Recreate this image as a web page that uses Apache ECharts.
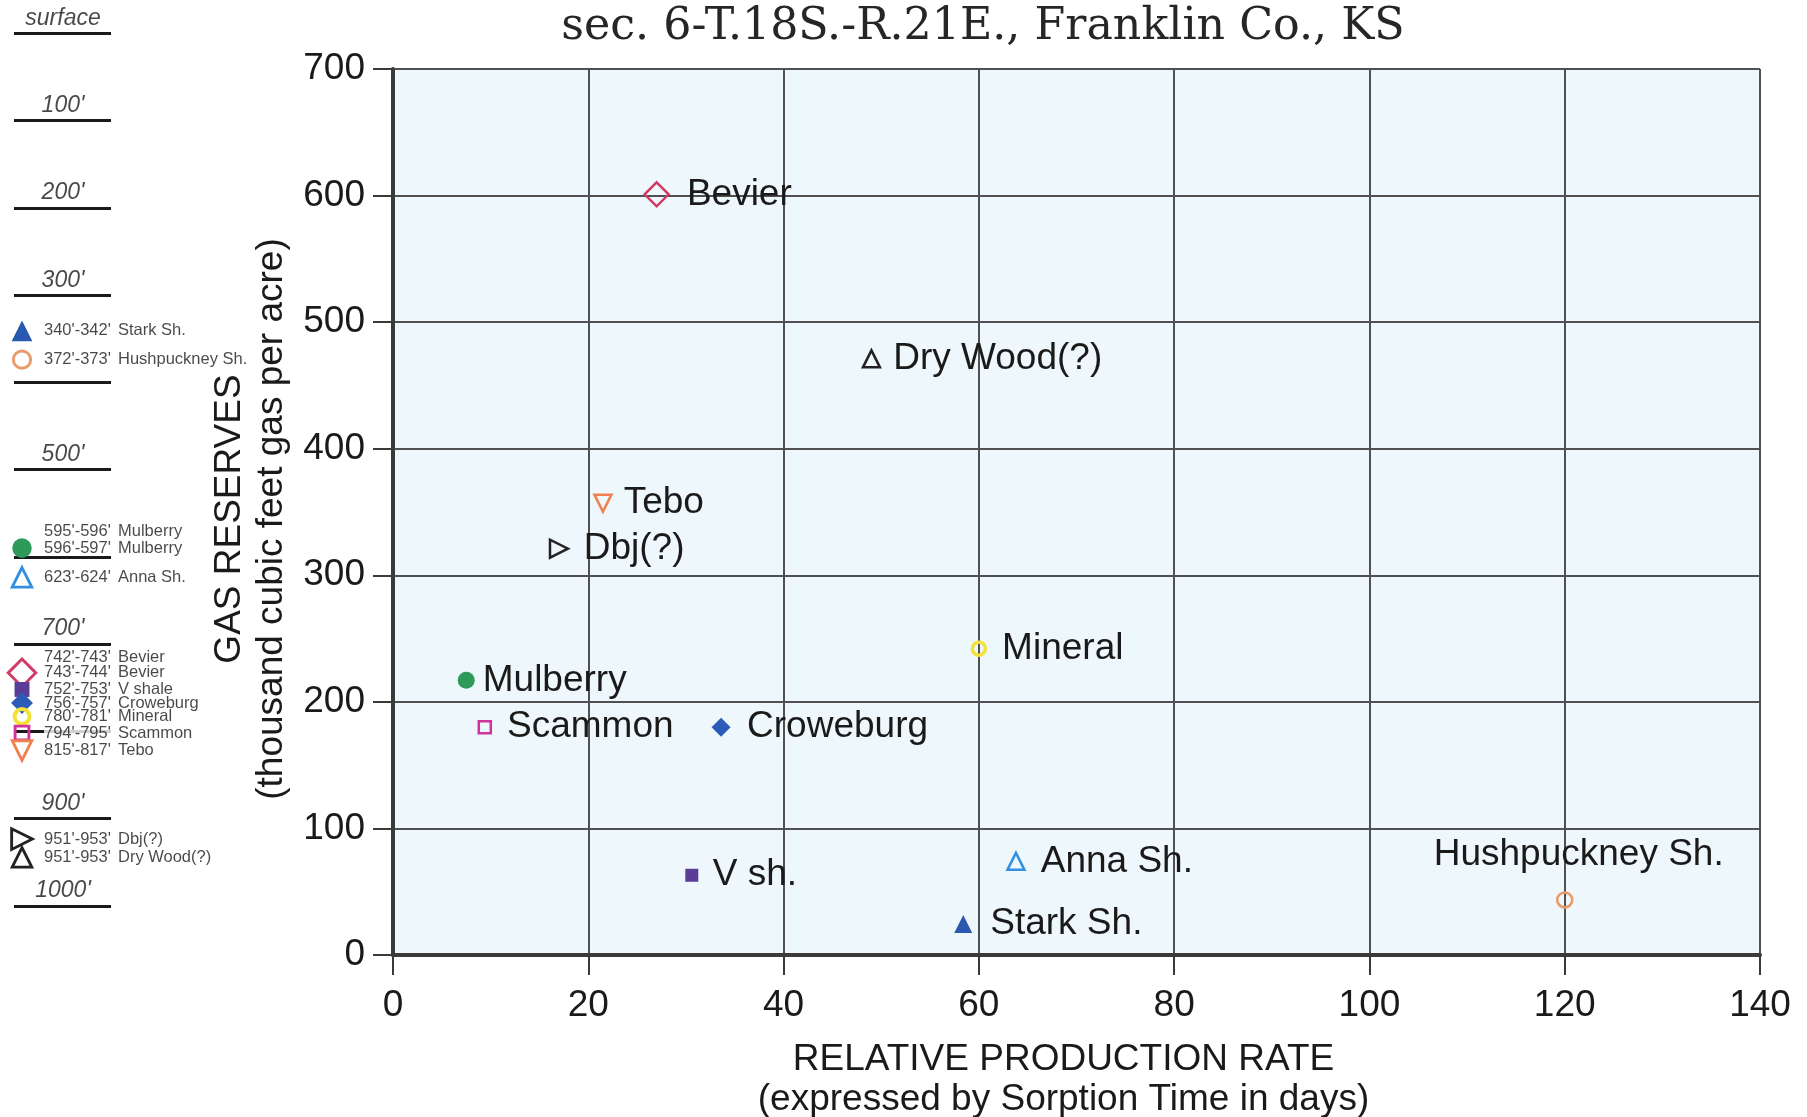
<!DOCTYPE html>
<html><head><meta charset="utf-8">
<script src="https://cdn.jsdelivr.net/npm/echarts@6/dist/echarts.min.js"></script>
<style>html,body{margin:0;padding:0;background:#fff}#c{width:1807px;height:1117px}</style>
</head><body><div id="c"></div>
<script>
// ---- data ----
const formations   = ['Stark Sh.','Hushpuckney Sh.','Mulberry','Anna Sh.','Bevier','V sh.','Croweburg','Mineral','Scammon','Tebo','Dbj(?)','Dry Wood(?)'];
const sorptionDays = [58.4, 120, 7.5, 63.8, 27, 30.6, 33.6, 60, 9.4, 21.5, 17, 49];
const gasReserves  = [24.5, 43.5, 217, 74, 601, 63, 180, 242, 180, 357, 321, 471];

const xTickValues = [0, 20, 40, 60, 80, 100, 120, 140];
const yTickValues = [0, 100, 200, 300, 400, 500, 600, 700];

const depthScaleFeet   = [0, 100, 200, 300, 500, 700, 900, 1000];
const depthScaleLabels = ['surface', "100'", "200'", "300'", "500'", "700'", "900'", "1000'"];

const legendIntervals = ["340'-342'", "372'-373'", "595'-596'", "596'-597'", "623'-624'", "742'-743'", "743'-744'", "752'-753'", "756'-757'", "780'-781'", "794'-795'", "815'-817'", "951'-953'", "951'-953'"];
const legendNames     = ['Stark Sh.', 'Hushpuckney Sh.', 'Mulberry', 'Mulberry', 'Anna Sh.', 'Bevier', 'Bevier', 'V shale', 'Croweburg', 'Mineral', 'Scammon', 'Tebo', 'Dbj(?)', 'Dry Wood(?)'];
const legendRowDepth  = [341, 374, 571, 590, 623.5, 715, 733, 752, 767.5, 783, 802, 822, 923.5, 944.5];
const legendFormation = [0, 1, -1, 2, 3, -1, 4, 5, 6, 7, 8, 9, 10, 11];

// ---- styles ----
const FONT = '"Liberation Sans", Arial, Helvetica, sans-serif';
const TXT = '#1a1a1a';
const markStyle = [
  {symbol:'triangle', size:18, rot:0,   fill:'#2a5ab0',                 gap:27},   // Stark
  {symbol:'circle',   size:15, rot:0,   stroke:'#e99a6a', bw:2.5,       gap:18},   // Hushpuckney
  {symbol:'circle',   size:17, rot:0,   fill:'#2e9a5a',                 gap:16.5}, // Mulberry
  {symbol:'triangle', size:17, rot:0,   stroke:'#3390e0', bw:2.5,       gap:23.5}, // Anna
  {symbol:'diamond',  size:24, rot:0,   stroke:'#d23a66', bw:2.5,       gap:29},   // Bevier
  {symbol:'rect',     size:13, rot:0,   fill:'#5b3d98',                 gap:21},   // V sh
  {symbol:'diamond',  size:19, rot:0,   fill:'#2c5bb8',                 gap:26},   // Croweburg
  {symbol:'circle',   size:13, rot:0,   stroke:'#f2e23a', bw:3.5,       gap:21.5}, // Mineral
  {symbol:'rect',     size:12, rot:0,   stroke:'#d0329a', bw:2.5,       gap:21},   // Scammon
  {symbol:'triangle', size:17, rot:180, stroke:'#f08050', bw:2.5,       gap:19.5}, // Tebo
  {symbol:'triangle', size:18, rot:-90, stroke:'#222222', bw:2.5,       gap:23.5}, // Dbj
  {symbol:'triangle', size:17, rot:0,   stroke:'#222222', bw:2.5,       gap:20.5}  // Dry Wood
];
function itemStyleOf(s, k) {
  k = k || 1;
  return s.fill ? {color: s.fill, borderWidth: 0, opacity: 1}
                : {color: 'rgba(0,0,0,0)', borderColor: s.stroke, borderWidth: s.bw * Math.min(k, 1.15), opacity: 1};
}

const series = [];
formations.forEach((name, i) => {
  const s = markStyle[i];
  const isHush = name === 'Hushpuckney Sh.';
  series.push({
    type: 'scatter', xAxisIndex: 0, yAxisIndex: 0, clip: false, z: 5,
    data: [[sorptionDays[i], gasReserves[i]]],
    symbol: s.symbol, symbolSize: s.size, symbolRotate: s.rot,
    itemStyle: itemStyleOf(s),
    label: {
      show: true, formatter: name, fontFamily: FONT, fontSize: 37, color: TXT, opacity: 1,
      position: isHush ? 'top' : 'right',
      distance: isHush ? s.gap : Math.max(1, s.gap - s.size / 2),
      offset: isHush ? [14, 0] : [0, 0]
    },
    emphasis: {disabled: true}
  });
});

// depth scale labels
series.push({
  type: 'scatter', xAxisIndex: 1, yAxisIndex: 1, clip: false, z: 5,
  data: depthScaleFeet.map(d => [49, d]),
  symbolSize: 1, itemStyle: {color: 'rgba(0,0,0,0)'},
  label: {
    show: true, position: 'top', distance: 3,
    formatter: p => depthScaleLabels[p.dataIndex],
    fontFamily: FONT, fontStyle: 'italic', fontSize: 23, color: TXT
  },
  emphasis: {disabled: true}
});
// legend texts
const richLegend = {
  d: {width: 74, fontFamily: FONT, fontSize: 16.5, color: TXT, lineHeight: 14.5},
  n: {fontFamily: FONT, fontSize: 16.5, color: TXT, lineHeight: 14.5},
  dw: {width: 74, fontFamily: FONT, fontSize: 16.5, color: TXT, lineHeight: 14.5, backgroundColor: '#ffffff'},
  nw: {fontFamily: FONT, fontSize: 16.5, color: TXT, lineHeight: 14.5, backgroundColor: '#ffffff'}
};
series.push({
  type: 'scatter', xAxisIndex: 1, yAxisIndex: 1, clip: false, z: 6,
  data: legendRowDepth.map(d => [29.5, d]),
  symbolSize: 1, itemStyle: {color: 'rgba(0,0,0,0)'},
  label: {
    show: true, position: 'right', distance: 0,
    formatter: p => {
      // rows sitting on a 100-ft rule get a white backing so the rule stops at the text
      const onRule = Math.abs(legendRowDepth[p.dataIndex] % 100 - 0) < 4 || Math.abs(legendRowDepth[p.dataIndex] % 100 - 100) < 4;
      const a = onRule ? 'dw' : 'd', b = onRule ? 'nw' : 'n';
      return '{' + a + '|' + legendIntervals[p.dataIndex] + '}{' + b + '|' + legendNames[p.dataIndex] + '}';
    },
    rich: richLegend
  },
  emphasis: {disabled: true}
});
// legend markers at depth
const LK = 1.15;
series.push({
  type: 'scatter', xAxisIndex: 1, yAxisIndex: 1, clip: false, z: 7,
  data: legendRowDepth.map((d, r) => {
    const f = legendFormation[r];
    if (f < 0) return null;
    const s = markStyle[f];
    return {value: [8, d], symbol: s.symbol, symbolSize: s.size * LK, symbolRotate: s.rot, itemStyle: itemStyleOf(s, LK)};
  }).filter(Boolean),
  emphasis: {disabled: true}
});

const option = {
  animation: false,
  backgroundColor: '#ffffff',
  title: {
    text: 'sec. 6-T.18S.-R.21E., Franklin Co., KS',
    left: 978, top: 0, textAlign: 'center',
    textStyle: {fontFamily: '"DejaVu Serif", serif', fontWeight: 'normal', fontSize: 44.3, color: '#262626'}
  },
  grid: [
    {left: 393, top: 69, width: 1367, height: 886, show: true, backgroundColor: '#eef7fb', borderWidth: 0, outerBoundsMode: 'none'},
    {left: 14, top: 33.4, width: 97, height: 872.4, show: false, outerBoundsMode: 'none'}
  ],
  xAxis: [
    {
      type: 'value', gridIndex: 0, min: xTickValues[0], max: xTickValues[xTickValues.length - 1],
      interval: xTickValues[1] - xTickValues[0],
      axisLine: {show: true, onZero: false, lineStyle: {color: '#3a3a3a', width: 4}},
      axisTick: {show: true, length: 20, lineStyle: {color: '#3a3a3a', width: 2}},
      axisLabel: {fontFamily: FONT, fontSize: 37, color: TXT, margin: 32},
      splitLine: {show: true, lineStyle: {color: '#505050', width: 2}},
      name: '{a|RELATIVE PRODUCTION RATE}\n{a|(expressed by Sorption Time in days)}',
      nameLocation: 'middle', nameGap: 85,
      nameTextStyle: {padding: [0, 26, 0, 0], rich: {a: {fontFamily: FONT, fontSize: 37, color: TXT, lineHeight: 40}}}
    },
    {type: 'value', gridIndex: 1, min: 0, max: 97, show: false}
  ],
  yAxis: [
    {
      type: 'value', gridIndex: 0, min: yTickValues[0], max: yTickValues[yTickValues.length - 1],
      interval: yTickValues[1] - yTickValues[0],
      axisLine: {show: true, onZero: false, lineStyle: {color: '#3a3a3a', width: 4}},
      axisTick: {show: true, length: 20, lineStyle: {color: '#3a3a3a', width: 2}},
      axisLabel: {fontFamily: FONT, fontSize: 37, color: TXT, margin: 28},
      splitLine: {show: true, lineStyle: {color: '#505050', width: 2}},
      name: '{a|GAS RESERVES}\n{a|(thousand cubic feet gas per acre)}',
      nameLocation: 'middle', nameGap: 100,
      nameTextStyle: {padding: [0, 14, 0, 0], rich: {a: {fontFamily: FONT, fontSize: 37, color: TXT, lineHeight: 42}}}
    },
    {
      type: 'value', gridIndex: 1, min: 0, max: 1000, interval: 100, inverse: true,
      axisLine: {show: false}, axisTick: {show: false}, axisLabel: {show: false},
      splitLine: {show: true, lineStyle: {color: '#1a1a1a', width: 3}}
    }
  ],
  series: series
};
const chart = echarts.init(document.getElementById('c'), null, {renderer: 'canvas'});
chart.setOption(option);
</script>
</body></html>
